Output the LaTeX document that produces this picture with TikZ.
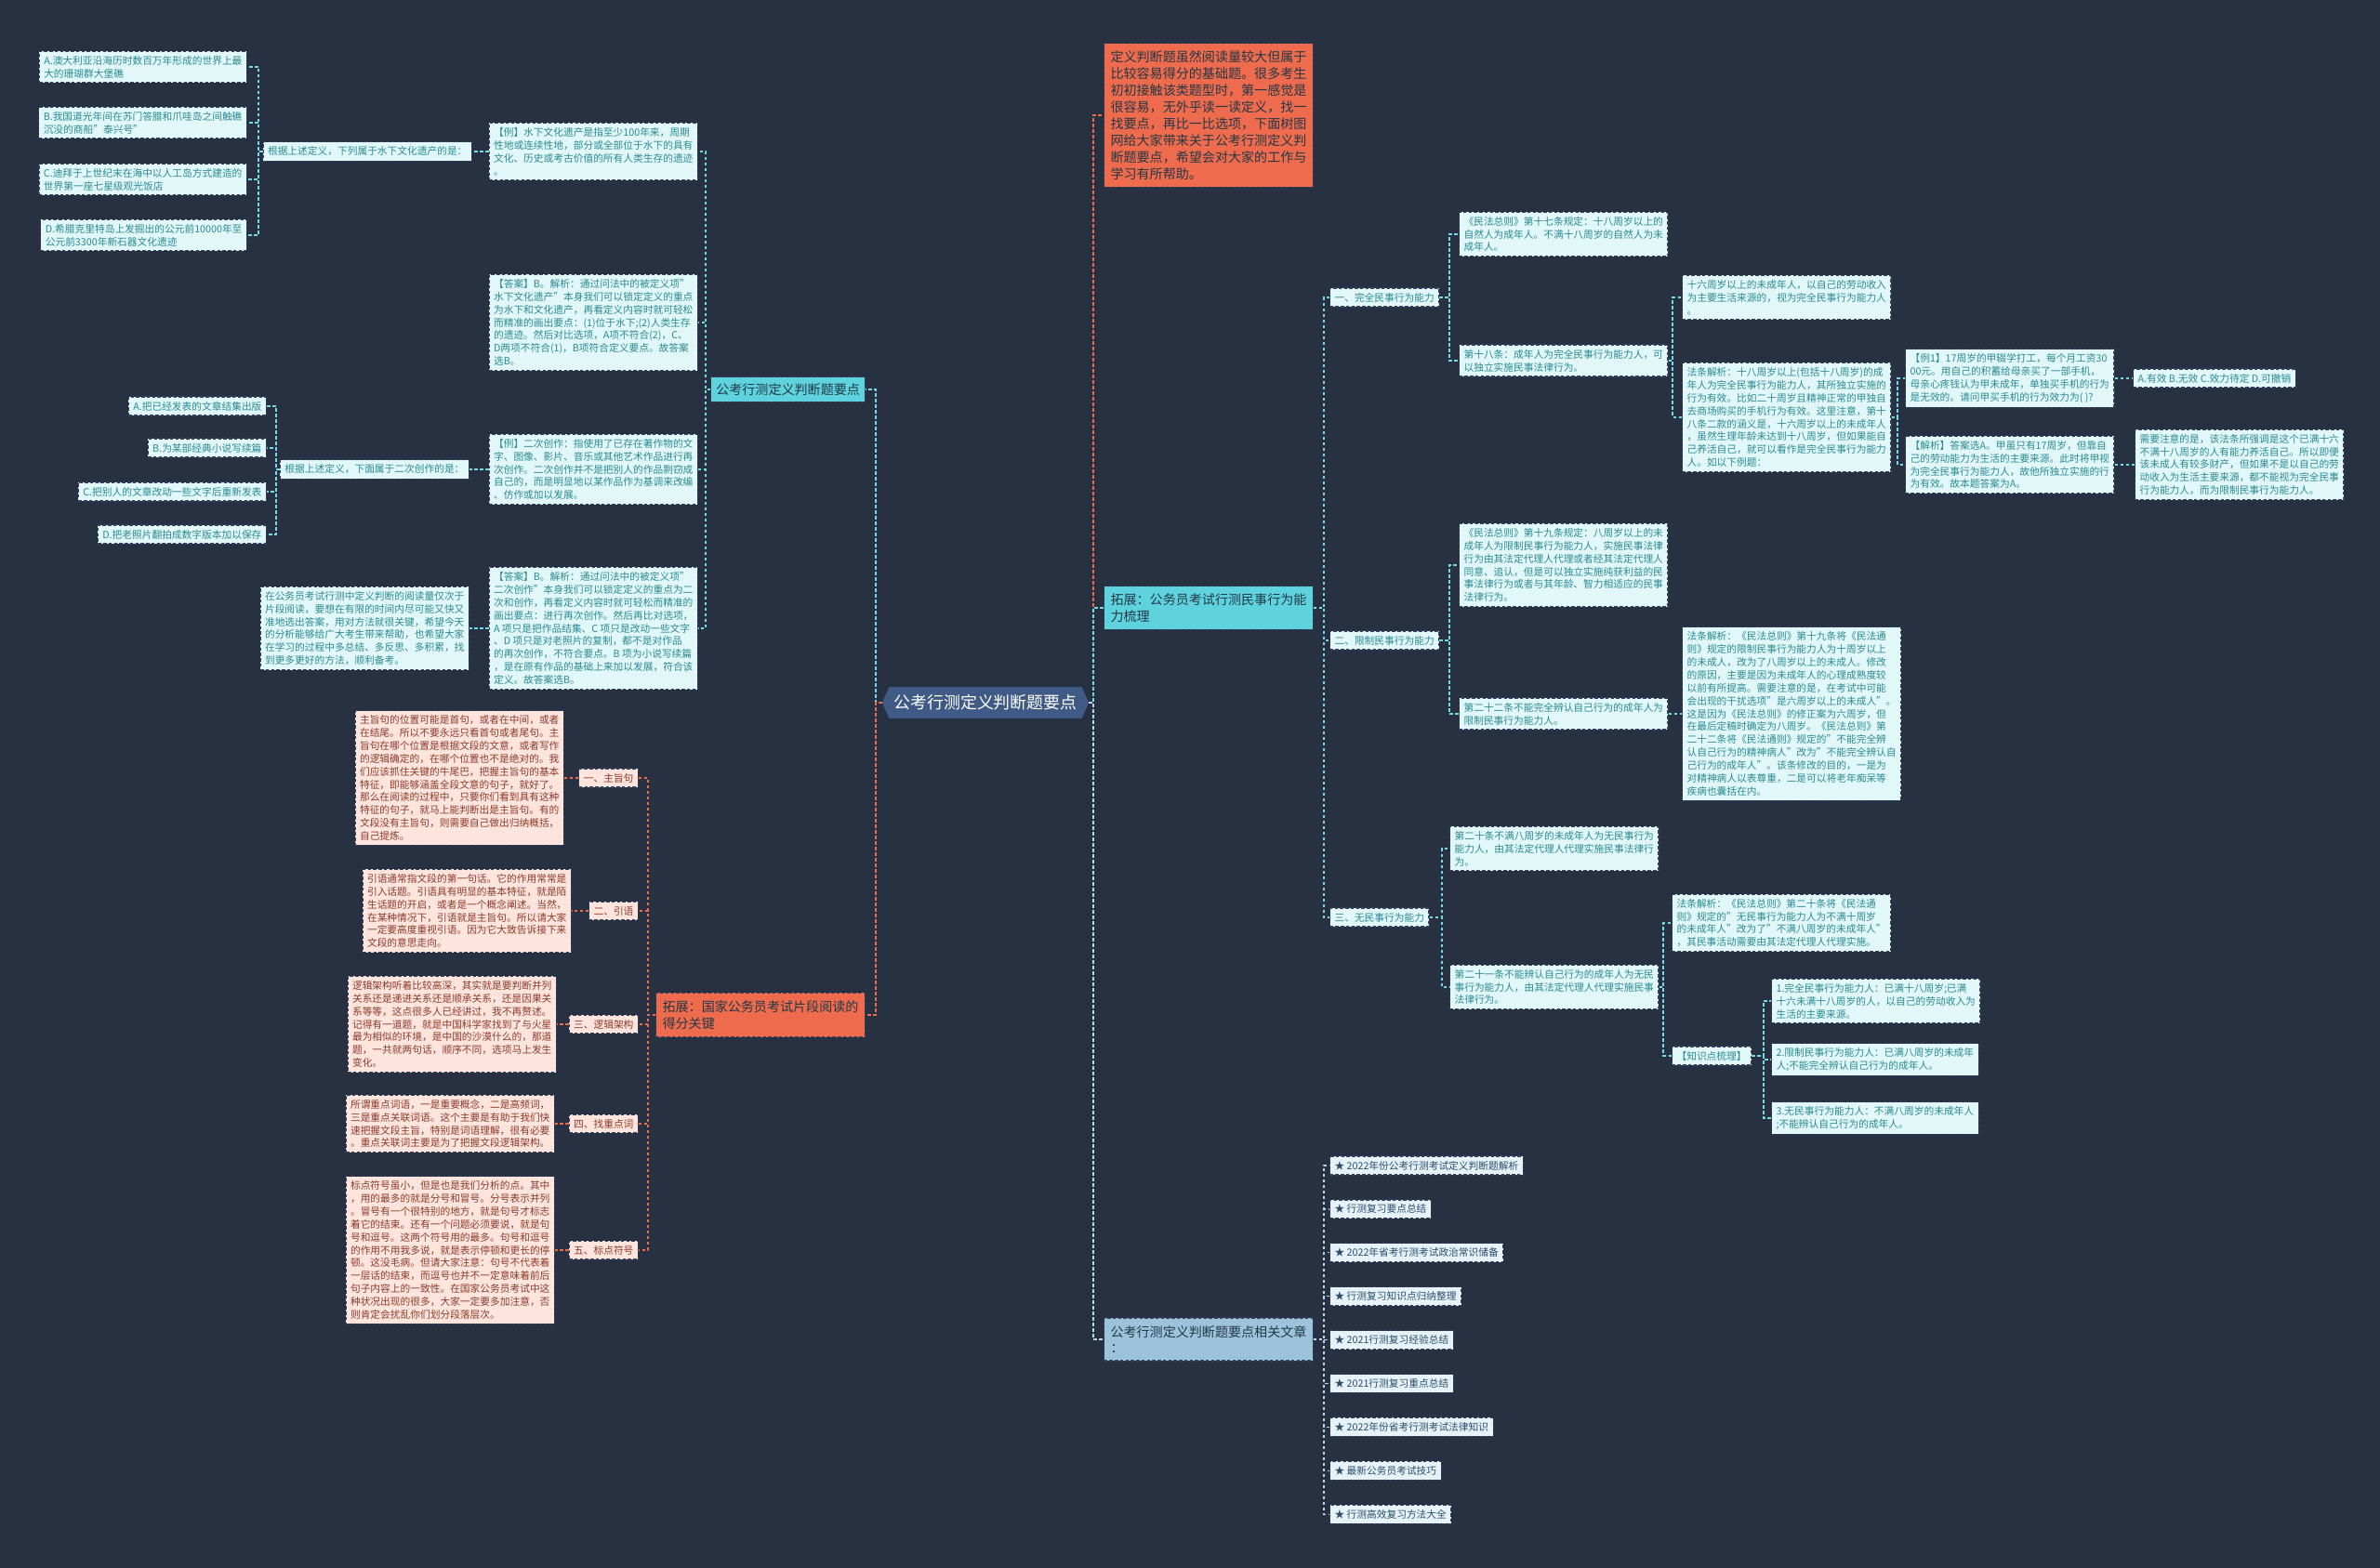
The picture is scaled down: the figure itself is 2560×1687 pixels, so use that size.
\documentclass[tikz,border=0pt]{standalone}
\usepackage{fontspec}
\setmainfont{Noto Sans CJK SC}
\usetikzlibrary{calc,positioning,shapes.symbols}
\definecolor{MapBg}{HTML}{283142}
\definecolor{MapEdge}{HTML}{34405A}
\definecolor{MapCyan}{HTML}{5ED3DE}
\definecolor{MapFrost}{HTML}{E1F7F8}
\definecolor{MapTeal}{HTML}{2A8A90}
\definecolor{MapDeep}{HTML}{223846}
\definecolor{MapRed}{HTML}{EE6B4D}
\definecolor{MapPeach}{HTML}{FDE4DC}
\definecolor{MapBrown}{HTML}{8B3A2B}
\definecolor{MapSteel}{HTML}{3F5B85}
\definecolor{MapSky}{HTML}{9DC3DC}
\definecolor{MapIce}{HTML}{E6F2F7}
\definecolor{MapInk}{HTML}{2B4F6A}

\tikzset{
  every node/.style={inner xsep=1mm, inner ysep=1mm},
  smallfont/.style={font=\fontsize{6.1pt}{7.9pt}\selectfont},
  midfont/.style={font=\fontsize{8pt}{10.2pt}\selectfont},
  boxline/.style={draw=MapEdge, line width=0.22mm, dash pattern=on 0.7mm off 0.45mm},
  leafbox/.style={boxline, smallfont, fill=MapFrost, text=MapTeal, align=left},
  peachbox/.style={boxline, smallfont, fill=MapPeach, text=MapBrown, align=left},
  linkbox/.style={boxline, smallfont, fill=MapIce, text=MapInk, align=left},
  branchbox/.style={boxline, midfont, fill=MapCyan, text=MapDeep, align=left, inner xsep=1.1mm, inner ysep=1.3mm},
  redbox/.style={boxline, midfont, fill=MapRed, text=MapDeep, align=left, inner xsep=1.4mm, inner ysep=1.6mm},
  skybox/.style={boxline, midfont, fill=MapSky, text=MapDeep, align=left, inner xsep=1.4mm, inner ysep=1.6mm},
  rootbox/.style={signal, signal to=east and west, signal pointer angle=132, fill=MapSteel, text=white,
    font=\fontsize{10.2pt}{12pt}\selectfont, inner xsep=1mm, inner ysep=1.7mm},
  cyanlink/.style={draw=MapCyan!85!white, line width=0.26mm, dash pattern=on 0.7mm off 0.5mm},
  redlink/.style={draw=MapRed, line width=0.26mm, dash pattern=on 0.7mm off 0.5mm},
  skylink/.style={draw=MapSky!70!white, line width=0.26mm, dash pattern=on 0.7mm off 0.5mm}
}

\begin{document}
\begin{tikzpicture}[x=0.2mm, y=-0.2mm]
  \fill[MapBg] (0,0) rectangle (2560,1687);

  \coordinate (kL) at (942,0);
  \coordinate (kR) at (1176,0);
  \coordinate (kA) at (759,0);
  \coordinate (kQ1) at (278,0);
  \coordinate (kQ2) at (297,0);
  \coordinate (kB) at (697,0);
  \coordinate (kC) at (1424,0);
  \coordinate (kFull) at (1559,0);
  \coordinate (kAdult) at (1799,0);
  \coordinate (kEx) at (2041,0);
  \coordinate (kNone) at (1551,0);
  \coordinate (kArt) at (1789,0);
  \coordinate (kSum) at (1897,0);

  \node[rootbox] (root) at (1060,756) {公考行测定义判断题要点};

  % left, upper branch
  \node[branchbox, anchor=east] (keyA) at (931,419) {公考行测定义判断题要点};
  \node[leafbox, anchor=east] (ex1) at (751,163) {【例】水下文化遗产是指至少100年来，周期\\性地或连续性地，部分或全部位于水下的具有\\文化、历史或考古价值的所有人类生存的遗迹\\。};
  \node[leafbox, anchor=east] (ans1) at (751,347) {【答案】B。解析：通过问法中的被定义项"\\水下文化遗产"本身我们可以锁定定义的重点\\为水下和文化遗产，再看定义内容时就可轻松\\而精准的画出要点：(1)位于水下;(2)人类生存\\的遗迹。然后对比选项，A项不符合(2)，C、\\D两项不符合(1)，B项符合定义要点。故答案\\选B。};
  \node[leafbox, anchor=east] (ex2) at (751,505) {【例】二次创作：指使用了已存在著作物的文\\字、图像、影片、音乐或其他艺术作品进行再\\次创作。二次创作并不是把别人的作品剽窃成\\自己的，而是明显地以某作品作为基调来改编\\、仿作或加以发展。};
  \node[leafbox, anchor=east] (ans2) at (751,676) {【答案】B。解析：通过问法中的被定义项"\\二次创作"本身我们可以锁定定义的重点为二\\次和创作，再看定义内容时就可轻松而精准的\\画出要点：进行再次创作。然后再比对选项，\\A 项只是把作品结集、C 项只是改动一些文字\\、D 项只是对老照片的复制，都不是对作品\\的再次创作，不符合要点。B 项为小说写续篇\\，是在原有作品的基础上来加以发展，符合该\\定义。故答案选B。};

  \node[leafbox, anchor=east] (q1) at (508,163) {根据上述定义，下列属于水下文化遗产的是：};
  \node[leafbox, anchor=east] (q1a) at (266,72) {A.澳大利亚沿海历时数百万年形成的世界上最\\大的珊瑚群大堡礁};
  \node[leafbox, anchor=east] (q1b) at (266,132) {B.我国道光年间在苏门答腊和爪哇岛之间触礁\\沉没的商船"泰兴号"};
  \node[leafbox, anchor=east] (q1c) at (266,193) {C.迪拜于上世纪末在海中以人工岛方式建造的\\世界第一座七星级观光饭店};
  \node[leafbox, anchor=east] (q1d) at (266,253) {D.希腊克里特岛上发掘出的公元前10000年至\\公元前3300年新石器文化遗迹};

  \node[leafbox, anchor=east] (q2) at (505,505) {根据上述定义，下面属于二次创作的是：};
  \node[leafbox, anchor=east] (q2a) at (287,437) {A.把已经发表的文章结集出版};
  \node[leafbox, anchor=east] (q2b) at (287,482) {B.为某部经典小说写续篇};
  \node[leafbox, anchor=east] (q2c) at (287,529) {C.把别人的文章改动一些文字后重新发表};
  \node[leafbox, anchor=east] (q2d) at (287,575) {D.把老照片翻拍成数字版本加以保存};

  \node[leafbox, anchor=east] (wrap) at (505,676) {在公务员考试行测中定义判断的阅读量仅次于\\片段阅读，要想在有限的时间内尽可能又快又\\准地选出答案，用对方法就很关键，希望今天\\的分析能够给广大考生带来帮助，也希望大家\\在学习的过程中多总结、多反思、多积累，找\\到更多更好的方法，顺利备考。};

  % left, lower branch
  \node[redbox, anchor=east] (keyB) at (931,1092) {拓展：国家公务员考试片段阅读的\\得分关键};
  \node[peachbox, anchor=east] (p1) at (687,837) {一、主旨句};
  \node[peachbox, anchor=east] (p2) at (687,980) {二、引语};
  \node[peachbox, anchor=east] (p3) at (687,1102) {三、逻辑架构};
  \node[peachbox, anchor=east] (p4) at (687,1209) {四、找重点词};
  \node[peachbox, anchor=east] (p5) at (687,1345) {五、标点符号};
  \node[peachbox, anchor=east] (pt1) at (607,837) {主旨句的位置可能是首句，或者在中间，或者\\在结尾。所以不要永远只看首句或者尾句。主\\旨句在哪个位置是根据文段的文意，或者写作\\的逻辑确定的，在哪个位置也不是绝对的。我\\们应该抓住关键的牛尾巴，把握主旨句的基本\\特征，即能够涵盖全段文意的句子，就好了。\\那么在阅读的过程中，只要你们看到具有这种\\特征的句子，就马上能判断出是主旨句。有的\\文段没有主旨句，则需要自己做出归纳概括，\\自己提炼。};
  \node[peachbox, anchor=east] (pt2) at (615,980) {引语通常指文段的第一句话。它的作用常常是\\引入话题。引语具有明显的基本特征，就是陌\\生话题的开启，或者是一个概念阐述。当然，\\在某种情况下，引语就是主旨句。所以请大家\\一定要高度重视引语。因为它大致告诉接下来\\文段的意思走向。};
  \node[peachbox, anchor=east] (pt3) at (599,1102) {逻辑架构听着比较高深，其实就是要判断并列\\关系还是递进关系还是顺承关系，还是因果关\\系等等，这点很多人已经讲过，我不再赘述。\\记得有一道题，就是中国科学家找到了与火星\\最为相似的环境，是中国的沙漠什么的，那道\\题，一共就两句话，顺序不同，选项马上发生\\变化。};
  \node[peachbox, anchor=east] (pt4) at (597,1209) {所谓重点词语，一是重要概念，二是高频词，\\三是重点关联词语。这个主要是有助于我们快\\速把握文段主旨，特别是词语理解，很有必要\\。重点关联词主要是为了把握文段逻辑架构。};
  \node[peachbox, anchor=east] (pt5) at (597,1345) {标点符号虽小，但是也是我们分析的点。其中\\，用的最多的就是分号和冒号。分号表示并列\\。冒号有一个很特别的地方，就是句号才标志\\着它的结束。还有一个问题必须要说，就是句\\号和逗号。这两个符号用的最多。句号和逗号\\的作用不用我多说，就是表示停顿和更长的停\\顿。这没毛病。但请大家注意：句号不代表着\\一层话的结束，而逗号也并不一定意味着前后\\句子内容上的一致性。在国家公务员考试中这\\种状况出现的很多，大家一定要多加注意，否\\则肯定会扰乱你们划分段落层次。};

  % right side
  \node[redbox, anchor=west] (intro) at (1187,124) {定义判断题虽然阅读量较大但属于\\比较容易得分的基础题。很多考生\\初初接触该类题型时，第一感觉是\\很容易，无外乎读一读定义，找一\\找要点，再比一比选项，下面树图\\网给大家带来关于公考行测定义判\\断题要点，希望会对大家的工作与\\学习有所帮助。};
  \node[branchbox, anchor=west, inner xsep=1.4mm, inner ysep=1.6mm] (keyC) at (1187,654) {拓展：公务员考试行测民事行为能\\力梳理};
  \node[skybox, anchor=west] (keyD) at (1187,1441) {公考行测定义判断题要点相关文章\\：};

  \node[leafbox, anchor=west] (full) at (1430,320) {一、完全民事行为能力};
  \node[leafbox, anchor=west] (limit) at (1430,689) {二、限制民事行为能力};
  \node[leafbox, anchor=west] (none) at (1430,987) {三、无民事行为能力};

  \node[leafbox, anchor=west] (art17) at (1569,252) {《民法总则》第十七条规定：十八周岁以上的\\自然人为成年人。不满十八周岁的自然人为未\\成年人。};
  \node[leafbox, anchor=west] (art18) at (1569,388) {第十八条：成年人为完全民事行为能力人，可\\以独立实施民事法律行为。};
  \node[leafbox, anchor=west] (age16) at (1809,320) {十六周岁以上的未成年人，以自己的劳动收入\\为主要生活来源的，视为完全民事行为能力人\\。};
  \node[leafbox, anchor=west] (note18) at (1809,449) {法条解析：十八周岁以上(包括十八周岁)的成\\年人为完全民事行为能力人，其所独立实施的\\行为有效。比如二十周岁且精神正常的甲独自\\去商场购买的手机行为有效。这里注意，第十\\八条二款的涵义是，十六周岁以上的未成年人\\，虽然生理年龄未达到十八周岁，但如果能自\\己养活自己，就可以看作是完全民事行为能力\\人。如以下例题：};
  \node[leafbox, anchor=west] (case1) at (2049,407) {【例1】17周岁的甲辍学打工，每个月工资30\\00元。用自己的积蓄给母亲买了一部手机，\\母亲心疼钱认为甲未成年，单独买手机的行为\\是无效的。请问甲买手机的行为效力为( )?};
  \node[leafbox, anchor=west] (case1opt) at (2294,407) {A.有效 B.无效 C.效力待定 D.可撤销};
  \node[leafbox, anchor=west] (case1ans) at (2049,500) {【解析】答案选A。甲虽只有17周岁，但靠自\\己的劳动能力为生活的主要来源。此时将甲视\\为完全民事行为能力人，故他所独立实施的行\\为有效。故本题答案为A。};
  \node[leafbox, anchor=west] (case1tip) at (2296,500) {需要注意的是，该法条所强调是这个已满十六\\不满十八周岁的人有能力养活自己。所以即便\\该未成人有较多财产，但如果不是以自己的劳\\动收入为生活主要来源，都不能视为完全民事\\行为能力人，而为限制民事行为能力人。};

  \node[leafbox, anchor=west] (art19) at (1569,608) {《民法总则》第十九条规定：八周岁以上的未\\成年人为限制民事行为能力人，实施民事法律\\行为由其法定代理人代理或者经其法定代理人\\同意、追认，但是可以独立实施纯获利益的民\\事法律行为或者与其年龄、智力相适应的民事\\法律行为。};
  \node[leafbox, anchor=west] (art22) at (1569,768) {第二十二条不能完全辨认自己行为的成年人为\\限制民事行为能力人。};
  \node[leafbox, anchor=west] (note22) at (1809,768) {法条解析：《民法总则》第十九条将《民法通\\则》规定的限制民事行为能力人为十周岁以上\\的未成人，改为了八周岁以上的未成人。修改\\的原因，主要是因为未成年人的心理成熟度较\\以前有所提高。需要注意的是，在考试中可能\\会出现的干扰选项"是六周岁以上的未成人"。\\这是因为《民法总则》的修正案为六周岁，但\\在最后定稿时确定为八周岁。《民法总则》第\\二十二条将《民法通则》规定的"不能完全辨\\认自己行为的精神病人"改为"不能完全辨认自\\己行为的成年人"。该条修改的目的，一是为\\对精神病人以表尊重，二是可以将老年痴呆等\\疾病也囊括在内。};

  \node[leafbox, anchor=west] (art20) at (1559,913) {第二十条不满八周岁的未成年人为无民事行为\\能力人，由其法定代理人代理实施民事法律行\\为。};
  \node[leafbox, anchor=west] (art21) at (1559,1062) {第二十一条不能辨认自己行为的成年人为无民\\事行为能力人，由其法定代理人代理实施民事\\法律行为。};
  \node[leafbox, anchor=west] (note20) at (1798,993) {法条解析：《民法总则》第二十条将《民法通\\则》规定的"无民事行为能力人为不满十周岁\\的未成年人"改为了"不满八周岁的未成年人"\\，其民事活动需要由其法定代理人代理实施。};
  \node[leafbox, anchor=west] (sum) at (1798,1136) {【知识点梳理】};
  \node[leafbox, anchor=west] (sum1) at (1905,1077) {1.完全民事行为能力人：已满十八周岁;已满\\十六未满十八周岁的人，以自己的劳动收入为\\生活的主要来源。};
  \node[leafbox, anchor=west] (sum2) at (1905,1140) {2.限制民事行为能力人：已满八周岁的未成年\\人;不能完全辨认自己行为的成年人。};
  \node[leafbox, anchor=west] (sum3) at (1905,1203) {3.无民事行为能力人：不满八周岁的未成年人\\;不能辨认自己行为的成年人。};

  \foreach \t [count=\i from 0] in {2022年份公考行测考试定义判断题解析, 行测复习要点总结,
      2022年省考行测考试政治常识储备, 行测复习知识点归纳整理, 2021行测复习经验总结,
      2021行测复习重点总结, 2022年份省考行测考试法律知识, 最新公务员考试技巧, 行测高效复习方法大全}
    \node[linkbox, anchor=west] (art\i) at (1430,{1254+46.9*\i}) {★ \t};

  % connectors
  \draw[cyanlink] (root.west) -- (root.west -| kL) |- (keyA.east);
  \draw[redlink] (root.west) -- (root.west -| kL) |- (keyB.east);
  \draw[redlink] (root.east) -- (root.east -| kR) |- (intro.west);
  \draw[cyanlink] (root.east) -- (root.east -| kR) |- (keyC.west);
  \draw[skylink] (root.east) -- (root.east -| kR) |- (keyD.west);

  \foreach \n in {ex1,ans1,ex2,ans2}
    \draw[cyanlink] (keyA.west) -- (keyA.west -| kA) |- (\n.east);
  \draw[cyanlink] (ex1.west) -- (q1.east);
  \draw[cyanlink] (ex2.west) -- (q2.east);
  \draw[cyanlink] (ans2.west) -- (wrap.east);
  \foreach \n in {q1a,q1b,q1c,q1d}
    \draw[cyanlink] (q1.west) -- (q1.west -| kQ1) |- (\n.east);
  \foreach \n in {q2a,q2b,q2c,q2d}
    \draw[cyanlink] (q2.west) -- (q2.west -| kQ2) |- (\n.east);

  \foreach \i in {1,...,5} {
    \draw[redlink] (keyB.west) -- (keyB.west -| kB) |- (p\i.east);
    \draw[redlink] (p\i.west) -- (pt\i.east);
  }

  \foreach \n in {full,limit,none}
    \draw[cyanlink] (keyC.east) -- (keyC.east -| kC) |- (\n.west);
  \foreach \n in {art17,art18}
    \draw[cyanlink] (full.east) -- (full.east -| kFull) |- (\n.west);
  \foreach \n in {age16,note18}
    \draw[cyanlink] (art18.east) -- (art18.east -| kAdult) |- (\n.west);
  \foreach \n in {case1,case1ans}
    \draw[cyanlink] (note18.east) -- (note18.east -| kEx) |- (\n.west);
  \draw[cyanlink] (case1.east) -- (case1opt.west);
  \draw[cyanlink] (case1ans.east) -- (case1tip.west);
  \foreach \n in {art19,art22}
    \draw[cyanlink] (limit.east) -- (limit.east -| kFull) |- (\n.west);
  \draw[cyanlink] (art22.east) -- (note22.west);
  \foreach \n in {art20,art21}
    \draw[cyanlink] (none.east) -- (none.east -| kNone) |- (\n.west);
  \foreach \n in {note20,sum}
    \draw[cyanlink] (art21.east) -- (art21.east -| kArt) |- (\n.west);
  \foreach \n in {sum1,sum2,sum3}
    \draw[cyanlink] (sum.east) -- (sum.east -| kSum) |- (\n.west);

  \foreach \i in {0,...,8}
    \draw[skylink] (keyD.east) -- (keyD.east -| kC) |- (art\i.west);
\end{tikzpicture}
\end{document}
